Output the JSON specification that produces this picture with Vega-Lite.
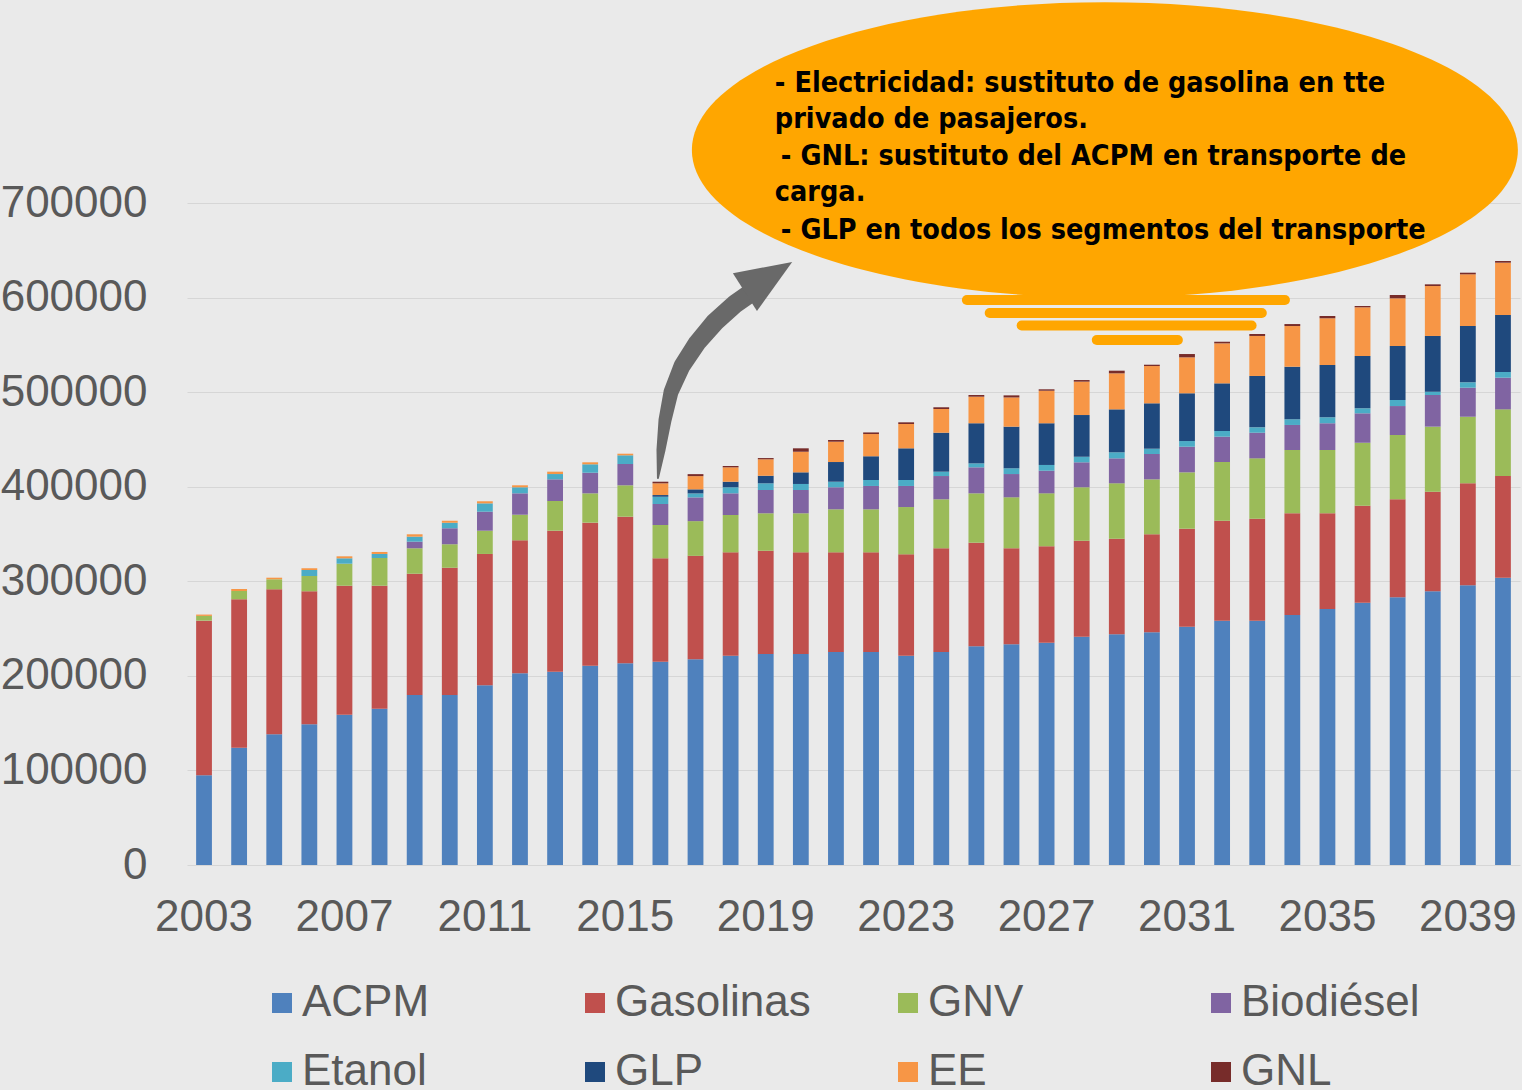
{
  "$schema": "https://vega.github.io/schema/vega-lite/v6.json",
  "width": 1333,
  "height": 662,
  "autosize": "none",
  "padding": {"left": 187, "top": 203, "right": 2, "bottom": 225},
  "background": "#EAEAEA",
  "config": {
    "view": {"stroke": null},
    "font": "Liberation Sans",
    "axisY": {"ticks": false, "domain": false, "labelFontSize": 44, "labelColor": "#595959", "labelPadding": 40, "gridColor": "#D6D6D6", "gridWidth": 1.2}
  },
  "datasets": {
    "fuels": [
      {"fuel": "ACPM", "rank": 1},
      {"fuel": "Gasolinas", "rank": 2},
      {"fuel": "GNV", "rank": 3},
      {"fuel": "Biodiésel", "rank": 4},
      {"fuel": "Etanol", "rank": 5},
      {"fuel": "GLP", "rank": 6},
      {"fuel": "EE", "rank": 7},
      {"fuel": "GNL", "rank": 8}
    ],
    "energy": [
      {"year": 2003, "ACPM": 95000, "Gasolinas": 163400, "GNV": 5000, "Biodiésel": 0, "Etanol": 0, "GLP": 0, "EE": 1400, "GNL": 0},
      {"year": 2004, "ACPM": 124000, "Gasolinas": 157000, "GNV": 8700, "Biodiésel": 0, "Etanol": 0, "GLP": 0, "EE": 2100, "GNL": 0},
      {"year": 2005, "ACPM": 138200, "Gasolinas": 153300, "GNV": 10600, "Biodiésel": 0, "Etanol": 0, "GLP": 0, "EE": 1700, "GNL": 0},
      {"year": 2006, "ACPM": 148800, "Gasolinas": 140600, "GNV": 16200, "Biodiésel": 0, "Etanol": 6300, "GLP": 0, "EE": 1800, "GNL": 0},
      {"year": 2007, "ACPM": 158900, "Gasolinas": 136400, "GNV": 23300, "Biodiésel": 0, "Etanol": 5700, "GLP": 0, "EE": 2100, "GNL": 0},
      {"year": 2008, "ACPM": 165300, "Gasolinas": 130000, "GNV": 29300, "Biodiésel": 0, "Etanol": 4300, "GLP": 0, "EE": 2100, "GNL": 0},
      {"year": 2009, "ACPM": 179800, "Gasolinas": 128200, "GNV": 26900, "Biodiésel": 7000, "Etanol": 5300, "GLP": 0, "EE": 2500, "GNL": 0},
      {"year": 2010, "ACPM": 179800, "Gasolinas": 134600, "GNV": 24700, "Biodiésel": 16900, "Etanol": 6000, "GLP": 0, "EE": 2100, "GNL": 0},
      {"year": 2011, "ACPM": 190000, "Gasolinas": 138900, "GNV": 24600, "Biodiésel": 20100, "Etanol": 8800, "GLP": 0, "EE": 2200, "GNL": 0},
      {"year": 2012, "ACPM": 202700, "Gasolinas": 140600, "GNV": 27100, "Biodiésel": 22600, "Etanol": 6400, "GLP": 0, "EE": 2100, "GNL": 0},
      {"year": 2013, "ACPM": 204400, "Gasolinas": 149100, "GNV": 31400, "Biodiésel": 22900, "Etanol": 5600, "GLP": 0, "EE": 2500, "GNL": 0},
      {"year": 2014, "ACPM": 210700, "Gasolinas": 151300, "GNV": 31000, "Biodiésel": 21800, "Etanol": 8900, "GLP": 0, "EE": 2100, "GNL": 0},
      {"year": 2015, "ACPM": 213300, "Gasolinas": 155000, "GNV": 33200, "Biodiésel": 22500, "Etanol": 9200, "GLP": 0, "EE": 1700, "GNL": 0},
      {"year": 2016, "ACPM": 215000, "Gasolinas": 109300, "GNV": 35200, "Biodiésel": 22200, "Etanol": 7700, "GLP": 1800, "EE": 12400, "GNL": 1700},
      {"year": 2017, "ACPM": 217500, "Gasolinas": 109400, "GNV": 36700, "Biodiésel": 25100, "Etanol": 4200, "GLP": 4300, "EE": 14000, "GNL": 2100},
      {"year": 2018, "ACPM": 221300, "Gasolinas": 109300, "GNV": 39500, "Biodiésel": 22900, "Etanol": 6400, "GLP": 5900, "EE": 15200, "GNL": 1400},
      {"year": 2019, "ACPM": 223100, "Gasolinas": 109200, "GNV": 39600, "Biodiésel": 24600, "Etanol": 7100, "GLP": 8000, "EE": 17400, "GNL": 1300},
      {"year": 2020, "ACPM": 223100, "Gasolinas": 107500, "GNV": 41300, "Biodiésel": 24600, "Etanol": 6400, "GLP": 12300, "EE": 21800, "GNL": 3600},
      {"year": 2021, "ACPM": 225200, "Gasolinas": 105400, "GNV": 45500, "Biodiésel": 23300, "Etanol": 5900, "GLP": 20800, "EE": 21500, "GNL": 1800},
      {"year": 2022, "ACPM": 225200, "Gasolinas": 105400, "GNV": 45500, "Biodiésel": 24700, "Etanol": 6300, "GLP": 25100, "EE": 23500, "GNL": 1700},
      {"year": 2023, "ACPM": 221300, "Gasolinas": 107200, "GNV": 50000, "Biodiésel": 22300, "Etanol": 6300, "GLP": 33500, "EE": 25700, "GNL": 1800},
      {"year": 2024, "ACPM": 225200, "Gasolinas": 109700, "GNV": 51800, "Biodiésel": 24600, "Etanol": 4600, "GLP": 41200, "EE": 25100, "GNL": 1800},
      {"year": 2025, "ACPM": 231200, "Gasolinas": 109600, "GNV": 52200, "Biodiésel": 27500, "Etanol": 4200, "GLP": 42400, "EE": 28100, "GNL": 1800},
      {"year": 2026, "ACPM": 233400, "Gasolinas": 101500, "GNV": 53900, "Biodiésel": 24600, "Etanol": 6100, "GLP": 44000, "EE": 30900, "GNL": 2200},
      {"year": 2027, "ACPM": 235100, "Gasolinas": 101900, "GNV": 56000, "Biodiésel": 23900, "Etanol": 6100, "GLP": 44100, "EE": 34400, "GNL": 1500},
      {"year": 2028, "ACPM": 241400, "Gasolinas": 101500, "GNV": 56500, "Biodiésel": 26400, "Etanol": 5900, "GLP": 44100, "EE": 35300, "GNL": 1700},
      {"year": 2029, "ACPM": 243900, "Gasolinas": 101100, "GNV": 58600, "Biodiésel": 26400, "Etanol": 6400, "GLP": 45400, "EE": 38100, "GNL": 2800},
      {"year": 2030, "ACPM": 246100, "Gasolinas": 103600, "GNV": 58100, "Biodiésel": 26800, "Etanol": 5600, "GLP": 48000, "EE": 39400, "GNL": 1400},
      {"year": 2031, "ACPM": 252000, "Gasolinas": 103600, "GNV": 59600, "Biodiésel": 27100, "Etanol": 6000, "GLP": 50500, "EE": 38000, "GNL": 3500},
      {"year": 2032, "ACPM": 258300, "Gasolinas": 105800, "GNV": 62000, "Biodiésel": 26800, "Etanol": 6000, "GLP": 50400, "EE": 42300, "GNL": 1700},
      {"year": 2033, "ACPM": 258300, "Gasolinas": 107900, "GNV": 63800, "Biodiésel": 27100, "Etanol": 5700, "GLP": 54300, "EE": 42300, "GNL": 2100},
      {"year": 2034, "ACPM": 264400, "Gasolinas": 107500, "GNV": 66900, "Biodiésel": 26500, "Etanol": 6000, "GLP": 55600, "EE": 43000, "GNL": 2100},
      {"year": 2035, "ACPM": 270700, "Gasolinas": 101200, "GNV": 66900, "Biodiésel": 28300, "Etanol": 6300, "GLP": 55300, "EE": 49400, "GNL": 2400},
      {"year": 2036, "ACPM": 277400, "Gasolinas": 102500, "GNV": 66600, "Biodiésel": 31100, "Etanol": 5300, "GLP": 55300, "EE": 51500, "GNL": 1400},
      {"year": 2037, "ACPM": 283100, "Gasolinas": 103600, "GNV": 68000, "Biodiésel": 30600, "Etanol": 6400, "GLP": 57100, "EE": 50400, "GNL": 3500},
      {"year": 2038, "ACPM": 289400, "Gasolinas": 105300, "GNV": 68800, "Biodiésel": 33500, "Etanol": 3500, "GLP": 58900, "EE": 52800, "GNL": 1800},
      {"year": 2039, "ACPM": 295700, "Gasolinas": 107900, "GNV": 70400, "Biodiésel": 30700, "Etanol": 5700, "GLP": 59500, "EE": 54700, "GNL": 1700},
      {"year": 2040, "ACPM": 303800, "Gasolinas": 107500, "GNV": 70500, "Biodiésel": 33500, "Etanol": 6000, "GLP": 60300, "EE": 55300, "GNL": 1800}
    ]
  },
  "layer": [
    {
      "data": {"name": "energy"},
      "transform": [
        {"fold": ["ACPM", "Gasolinas", "GNV", "Biodiésel", "Etanol", "GLP", "EE", "GNL"], "as": ["fuel", "v"]},
        {"lookup": "fuel", "from": {"data": {"name": "fuels"}, "key": "fuel", "fields": ["rank"]}}
      ],
      "mark": {"type": "bar"},
      "encoding": {
        "x": {
          "field": "year", "type": "ordinal",
          "scale": {"paddingInner": 0.55, "paddingOuter": 0.26},
          "axis": {"values": [2003, 2007, 2011, 2015, 2019, 2023, 2027, 2031, 2035, 2039], "labelAngle": 0, "ticks": false, "domain": false, "title": null, "labelFontSize": 44, "labelColor": "#595959", "labelPadding": 30, "grid": false}
        },
        "y": {
          "field": "v", "type": "quantitative", "stack": "zero",
          "scale": {"domain": [0, 700000], "nice": false},
          "axis": {"values": [0, 100000, 200000, 300000, 400000, 500000, 600000, 700000], "format": "d", "title": null}
        },
        "color": {
          "field": "fuel", "type": "nominal",
          "scale": {
            "domain": ["ACPM", "Gasolinas", "GNV", "Biodiésel", "Etanol", "GLP", "EE", "GNL"],
            "range": ["#4F81BD", "#C0504D", "#9BBB59", "#8064A2", "#4BACC6", "#1F497D", "#F79646", "#772C2A"]
          },
          "legend": {"orient": "none", "legendX": 73, "legendY": 778, "direction": "horizontal", "columns": 4, "gridAlign": "all", "columnPadding": 75, "rowPadding": 25, "symbolType": "square", "symbolSize": 400, "symbolStrokeWidth": 0, "labelFontSize": 44, "labelColor": "#595959", "labelLimit": 400, "labelOffset": -2, "title": null, "padding": 0}
        },
        "order": {"field": "rank", "type": "quantitative", "sort": "ascending"}
      }
    },
    {
      "data": {"values": [{"yr": 2028.66, "v": 756040}]},
      "mark": {"type": "point", "shape": "M -1 0 A 1 0.358 0 1 0 1 0 A 1 0.358 0 1 0 -1 0 Z", "size": 682276, "filled": true, "color": "#FFA600", "opacity": 1, "strokeWidth": 0},
      "encoding": {
        "x": {"field": "yr", "type": "quantitative", "scale": {"domain": [2002.515, 2040.485], "nice": false, "zero": false}, "axis": null},
        "y": {"field": "v", "type": "quantitative", "scale": {"domain": [0, 700000], "nice": false}, "axis": {"values": [0, 100000, 200000, 300000, 400000, 500000, 600000, 700000], "format": "d", "title": null}}
      }
    },
    {
      "data": {"values": [
        {"yr": 2024.73, "yr2": 2033.79, "v": 597430},
        {"yr": 2025.38, "yr2": 2033.13, "v": 583680},
        {"yr": 2026.29, "yr2": 2032.84, "v": 570470},
        {"yr": 2028.43, "yr2": 2030.74, "v": 555140}
      ]},
      "mark": {"type": "rule", "color": "#FFA600", "strokeWidth": 10, "strokeCap": "round"},
      "encoding": {
        "x": {"field": "yr", "type": "quantitative", "scale": {"domain": [2002.515, 2040.485], "nice": false, "zero": false}, "axis": null},
        "x2": {"field": "yr2"},
        "y": {"field": "v", "type": "quantitative", "scale": {"domain": [0, 700000], "nice": false}, "axis": {"values": [0, 100000, 200000, 300000, 400000, 500000, 600000, 700000], "format": "d", "title": null}}
      }
    },
    {
      "data": {"values": [
        {"yr": 2015.93, "v": 409200, "t": 0},
        {"yr": 2016.016, "v": 438800, "t": 0.37},
        {"yr": 2016.131, "v": 470500, "t": 0.58},
        {"yr": 2016.302, "v": 500150, "t": 0.68},
        {"yr": 2016.615, "v": 527640, "t": 0.79},
        {"yr": 2017.043, "v": 551960, "t": 0.84},
        {"yr": 2017.555, "v": 574170, "t": 0.89},
        {"yr": 2018.125, "v": 593200, "t": 0.89},
        {"yr": 2018.695, "v": 608000, "t": 0.89},
        {"yr": 2018.92, "v": 613300, "t": 0.89}
      ]},
      "mark": {"type": "trail", "color": "#696969"},
      "encoding": {
        "x": {"field": "yr", "type": "quantitative", "scale": {"domain": [2002.515, 2040.485], "nice": false, "zero": false}, "axis": null},
        "y": {"field": "v", "type": "quantitative", "scale": {"domain": [0, 700000], "nice": false}, "axis": {"values": [0, 100000, 200000, 300000, 400000, 500000, 600000, 700000], "format": "d", "title": null}},
        "size": {"field": "t", "type": "quantitative", "scale": {"domain": [0, 1], "range": [2, 21]}, "legend": null}
      }
    },
    {
      "data": {"values": [{"yr": 2019.08, "v": 621700}]},
      "mark": {"type": "point", "shape": "M 1 0 L -1 -0.8 L -1 0.8 Z", "size": 3136, "angle": 327.5, "filled": true, "color": "#696969", "opacity": 1, "strokeWidth": 0},
      "encoding": {
        "x": {"field": "yr", "type": "quantitative", "scale": {"domain": [2002.515, 2040.485], "nice": false, "zero": false}, "axis": null},
        "y": {"field": "v", "type": "quantitative", "scale": {"domain": [0, 700000], "nice": false}, "axis": {"values": [0, 100000, 200000, 300000, 400000, 500000, 600000, 700000], "format": "d", "title": null}}
      }
    },
    {
      "data": {"values": [
        {"yr": 2019.26, "v": 817400, "line": "- Electricidad: sustituto de gasolina en tte"},
        {"yr": 2019.26, "v": 779300, "line": "privado de pasajeros."},
        {"yr": 2019.43, "v": 740200, "line": "- GNL: sustituto del ACPM en transporte de"},
        {"yr": 2019.26, "v": 702100, "line": "carga."},
        {"yr": 2019.43, "v": 661900, "line": "- GLP en todos los segmentos del transporte"}
      ]},
      "mark": {"type": "text", "align": "left", "baseline": "alphabetic", "font": "'DejaVu Sans Condensed', 'DejaVu Sans', sans-serif", "fontWeight": "bold", "fontSize": 28.5, "color": "#000000"},
      "encoding": {
        "x": {"field": "yr", "type": "quantitative", "scale": {"domain": [2002.515, 2040.485], "nice": false, "zero": false}, "axis": null},
        "y": {"field": "v", "type": "quantitative", "scale": {"domain": [0, 700000], "nice": false}, "axis": {"values": [0, 100000, 200000, 300000, 400000, 500000, 600000, 700000], "format": "d", "title": null}},
        "text": {"field": "line"}
      }
    }
  ],
  "resolve": {"scale": {"x": "independent"}}
}
